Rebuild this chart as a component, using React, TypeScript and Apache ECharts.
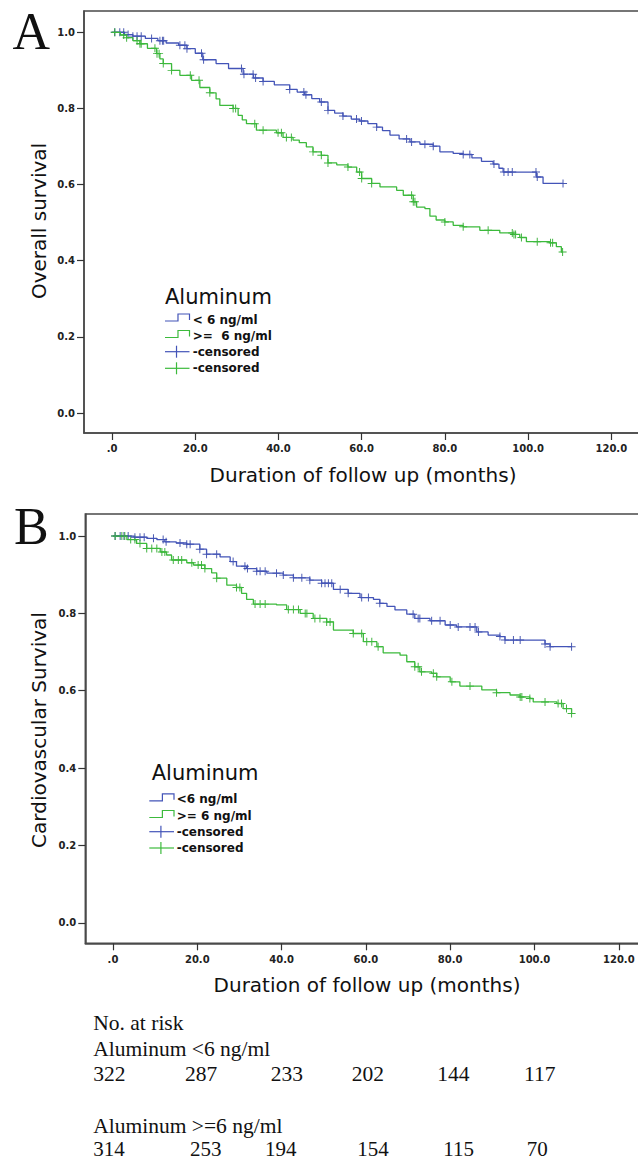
import React, { useEffect, useRef } from "react";
import * as echarts from "echarts";

// ---------- data ----------
const xTicks = [0, 20, 40, 60, 80, 100, 120];
const yTicks = [0, 0.2, 0.4, 0.6, 0.8, 1.0];

const groupLabelsA = ["< 6 ng/ml", ">=  6 ng/ml", "-censored", "-censored"];
const groupLabelsB = ["<6 ng/ml", ">= 6 ng/ml", "-censored", "-censored"];
const legendTitle = "Aluminum";

// Panel A: overall survival, [month, survival after drop]
const osLowSteps: [number, number][] = [
  [0, 1.0], [3, 0.994], [5, 0.99], [8, 0.984], [11, 0.978], [13, 0.972], [16, 0.966], [18, 0.957],
  [20, 0.945], [21.8, 0.928], [25, 0.918], [28, 0.905], [31.5, 0.89], [34, 0.88], [36.3, 0.871],
  [39, 0.862], [42.7, 0.85], [44.5, 0.843], [46.3, 0.836], [48, 0.826], [49.9, 0.817], [51.9, 0.795],
  [53.5, 0.788], [55.5, 0.78], [57.5, 0.772], [59.5, 0.767], [61.5, 0.76], [63.6, 0.751], [65, 0.742],
  [66.8, 0.73], [69, 0.72], [71.6, 0.712], [74, 0.706], [77.2, 0.701], [78.8, 0.686], [82, 0.682],
  [84.4, 0.679], [86.5, 0.67], [88.8, 0.661], [91.6, 0.654], [93, 0.643], [94, 0.633], [102, 0.62],
  [103.6, 0.603], [108.4, 0.603],
];
const osLowCensored = [
  0.65, 1.85, 2.8, 3.85, 5, 6, 7, 9.5, 11.5, 12.1, 12.4, 16.3, 17.5, 18, 21.5, 22, 31.1, 31.7, 33.9,
  34.5, 36.3, 42.7, 46.1, 46.6, 50.3, 51.9, 55.5, 58.75, 59.95, 63.6, 70.8, 72, 75.2, 77.2, 84.4, 86,
  91.8, 94.2, 95.2, 96.2, 101.9, 102.2, 108.4,
];
const osHighSteps: [number, number][] = [
  [0, 1.0], [2, 0.993], [3.5, 0.986], [5, 0.978], [6.7, 0.97], [8.5, 0.958], [10.7, 0.944], [11.5, 0.93],
  [12.3, 0.918], [14.3, 0.9], [16.3, 0.887], [19.1, 0.874], [21.1, 0.855], [23.5, 0.841], [25, 0.825],
  [25.9, 0.808], [29.1, 0.8], [30.3, 0.782], [31.3, 0.77], [32.3, 0.76], [34.7, 0.743], [39.5, 0.736],
  [41.1, 0.724], [43.5, 0.717], [45, 0.71], [46.7, 0.699], [48.3, 0.686], [50.3, 0.677], [51.9, 0.657],
  [54, 0.652], [56.7, 0.646], [58.8, 0.633], [60, 0.616], [62.4, 0.603], [64.4, 0.594], [68.4, 0.585],
  [70, 0.572], [72.4, 0.555], [73.2, 0.541], [75.2, 0.537], [76.4, 0.517], [77.9, 0.507], [80, 0.502],
  [82, 0.493], [84.4, 0.489], [88.4, 0.48], [93.2, 0.473], [96.4, 0.469], [98, 0.461], [99.6, 0.45],
  [105.2, 0.447], [106.8, 0.437], [108, 0.423], [108.3, 0.423],
];
const osHighCensored = [
  0.65, 2.8, 3.5, 6, 6.7, 7, 10.3, 10.8, 11.3, 12.3, 14.3, 18.8, 20.9, 23.5, 29.1, 29.7, 34.3, 36.3,
  39.9, 40.7, 41.9, 43.1, 48.3, 50.3, 51.9, 56.7, 59.5, 60, 62.4, 72, 72.4, 72.8, 80, 84.4, 90.4, 96.2,
  96.6, 97, 98.4, 102.2, 105.4, 105.9, 108.3,
];

// Panel B: cardiovascular survival
const cvLowSteps: [number, number][] = [
  [0, 1.0], [5, 0.997], [8, 0.994], [10.4, 0.991], [12.3, 0.985], [15, 0.982], [17.5, 0.979],
  [20.6, 0.966], [22.2, 0.953], [25.4, 0.946], [27.8, 0.934], [29.3, 0.922], [31.7, 0.916], [34.1, 0.909],
  [36.5, 0.904], [40.4, 0.899], [42.8, 0.892], [46.7, 0.886], [49.5, 0.878], [52.3, 0.862], [55.8, 0.852],
  [58.6, 0.841], [61.8, 0.836], [63.3, 0.826], [65, 0.818], [66.9, 0.809], [69.7, 0.798], [71.6, 0.787],
  [75.2, 0.781], [78.8, 0.77], [81.5, 0.765], [86.3, 0.752], [89, 0.744], [91.8, 0.74], [93, 0.731],
  [102.5, 0.721], [103.7, 0.714], [108.8, 0.714],
];
const cvLowCensored = [
  0.5, 1.7, 2.6, 3.6, 5.2, 6.4, 7.4, 9.6, 11.9, 12.6, 15.9, 17.5, 18.3, 20.6, 22.2, 24.6, 28.5, 31.3,
  31.9, 34.1, 34.9, 36.1, 38.8, 40.4, 42.8, 44.8, 46.7, 49.5, 50.3, 51.1, 51.9, 53.9, 55.8, 59, 60.6,
  63.3, 71.2, 72.4, 72.8, 75.6, 77.6, 80, 81.9, 84.7, 85.9, 86.7, 91.8, 93, 95, 96.6, 102.5, 103.7, 108.8,
];
const cvHighSteps: [number, number][] = [
  [0, 1.0], [3.3, 0.991], [5.6, 0.981], [8, 0.968], [11.2, 0.959], [12.7, 0.951], [13.9, 0.938],
  [17.5, 0.931], [19.1, 0.925], [21.8, 0.916], [23.4, 0.905], [24.6, 0.891], [27, 0.873], [29.3, 0.867],
  [30.5, 0.852], [31.7, 0.836], [33.3, 0.824], [38.8, 0.822], [41.2, 0.81], [44.4, 0.8], [47.5, 0.787],
  [50.7, 0.778], [52.3, 0.757], [57, 0.748], [59.4, 0.727], [62.6, 0.714], [64.1, 0.698], [68.1, 0.692],
  [69.7, 0.675], [71.6, 0.662], [72.8, 0.649], [75.6, 0.645], [76.8, 0.636], [80, 0.623], [82.3, 0.612],
  [87.5, 0.602], [91, 0.595], [94.2, 0.589], [96.6, 0.584], [98.9, 0.58], [99.7, 0.571], [105.3, 0.567],
  [106.8, 0.554], [108.8, 0.541],
];
const cvHighCensored = [
  0.5, 2.1, 2.8, 4.2, 5.2, 6.4, 8, 9.2, 10.4, 11.6, 12.3, 14.3, 15.5, 16.3, 18.7, 20.2, 21, 21.8, 24.6,
  29.3, 30.1, 33.7, 34.9, 36.1, 41.6, 42.8, 44, 45.6, 46, 47.9, 49.1, 50.7, 51.5, 57, 59, 60.2, 61.4,
  62.9, 71.6, 72.4, 73.2, 76, 76.8, 80.4, 84.7, 91, 96.6, 97, 98.9, 102.5, 105.6, 106.4, 107.6, 108.8,
];

// Numbers at risk
const riskTitle = "No. at risk";
const riskLowLabel = "Aluminum <6 ng/ml";
const riskHighLabel = "Aluminum >=6 ng/ml";
const riskLow = [322, 287, 233, 202, 144, 117];
const riskHigh = [314, 253, 194, 154, 115, 70];

// ---------- helpers ----------
const BLUE = "#4354b8";
const BLUE_MARK = "#3142a6";
const GREEN = "#3cba3c";
const GREEN_MARK = "#27a827";
const FRAME = "#4a4a4a";

const PLUS = "path://M4.4,0H5.6V4.4H10V5.6H5.6V10H4.4V5.6H0V4.4H4.4Z";

function stepValue(steps: [number, number][], t: number): number {
  let v = steps[0][1];
  for (const [x, y] of steps) {
    if (x <= t + 1e-9) v = y;
    else break;
  }
  return v;
}

function censorPoints(steps: [number, number][], times: number[]) {
  return times.map((t) => [t, stepValue(steps, t)]);
}

const fmtX = (v: number) => (Math.abs(v) < 1e-9 ? ".0" : v.toFixed(1));
const fmtY = (v: number) => v.toFixed(1);

function makeXAxis(gridIndex: number, min: number, max: number, margin: number) {
  return {
    type: "value",
    gridIndex,
    min,
    max,
    axisLine: { show: true, onZero: false, lineStyle: { color: FRAME, width: 1.5 } },
    axisTick: {
      show: true,
      customValues: xTicks,
      length: 7,
      inside: false,
      lineStyle: { color: "#333", width: 1.2 },
    },
    axisLabel: {
      show: true,
      customValues: xTicks,
      formatter: fmtX,
      margin,
      fontFamily: "DejaVu Sans",
      fontWeight: "bold",
      fontSize: 10,
      color: "#222",
    },
    splitLine: { show: false },
  };
}

function makeYAxis(gridIndex: number, min: number, max: number) {
  return {
    type: "value",
    gridIndex,
    min,
    max,
    axisLine: { show: true, onZero: false, lineStyle: { color: FRAME, width: 1.5 } },
    axisTick: {
      show: true,
      customValues: yTicks,
      length: 7,
      inside: false,
      lineStyle: { color: "#333", width: 1.2 },
    },
    axisLabel: {
      show: true,
      customValues: yTicks,
      formatter: fmtY,
      margin: 9,
      fontFamily: "DejaVu Sans",
      fontWeight: "bold",
      fontSize: 10,
      color: "#222",
    },
    splitLine: { show: false },
  };
}

function stepSeries(idx: number, data: [number, number][], color: string) {
  return {
    type: "line",
    xAxisIndex: idx,
    yAxisIndex: idx,
    step: "end",
    data,
    showSymbol: false,
    symbol: "none",
    lineStyle: { color, width: 1.3 },
    silent: true,
  };
}

function censorSeries(idx: number, data: number[][], color: string) {
  return {
    type: "scatter",
    xAxisIndex: idx,
    yAxisIndex: idx,
    data,
    symbol: PLUS,
    symbolSize: 8,
    itemStyle: { color, opacity: 0.9 },
    silent: true,
  };
}

function text(x: number, y: number, str: string, font: string, extra: any = {}) {
  return {
    type: "text",
    x,
    y,
    silent: true,
    rotation: extra.rotation || 0,
    style: {
      text: str,
      font,
      fill: extra.fill || "#111",
      textAlign: extra.align || "left",
      textVerticalAlign: "middle",
    },
  };
}

function legend(titleX: number, titleMid: number, rows: number[], x0: number, x1: number, tx: number, labels: string[]) {
  const els: any[] = [];
  els.push(text(titleX, titleMid, legendTitle, '21px "DejaVu Sans"'));
  const colors = [BLUE, GREEN, BLUE, GREEN];
  rows.forEach((y, i) => {
    const c = colors[i];
    if (i < 2) {
      const xm = x0 + (x1 - x0) * 0.53;
      els.push({
        type: "polyline",
        silent: true,
        shape: {
          points: [
            [x0, y + 1.5],
            [xm, y + 1.5],
            [xm, y - 5.5],
            [x1, y - 5.5],
            [x1, y + 0.5],
          ],
        },
        style: { stroke: c, lineWidth: 1.2, fill: "none" },
      });
    } else {
      const xm = x0 + (x1 - x0) * 0.47;
      els.push({
        type: "line",
        silent: true,
        shape: { x1: x0, y1: y, x2: x1, y2: y },
        style: { stroke: c, lineWidth: 1.2 },
      });
      els.push({
        type: "line",
        silent: true,
        shape: { x1: xm, y1: y - 6, x2: xm, y2: y + 6 },
        style: { stroke: c, lineWidth: 1.2 },
      });
    }
    els.push(text(tx, y, labels[i], 'bold 12px "DejaVu Sans"'));
  });
  return els;
}

export default function App() {
  const ref = useRef<HTMLDivElement>(null);

  useEffect(() => {
    if (!ref.current) return;
    const chart = echarts.init(ref.current, undefined, { renderer: "svg" });

    const serif = '"Liberation Serif", "Times New Roman", serif';
    const tableFont = `21.5px ${serif}`;
    const lastRowFont = `21px ${serif}`;
    const colsLow = [93.3, 185, 270.7, 351.7, 437.3, 524];
    const colsHigh = [93.3, 190, 265, 357.3, 443.3, 526.7];

    const graphics: any[] = [
      text(12.5, 31, "A", `52px ${serif}`),
      text(14, 526.5, "B", `52px ${serif}`),
      text(363, 475, "Duration of follow up (months)", '20px "DejaVu Sans"', { align: "center" }),
      text(367, 985, "Duration of follow up (months)", '20px "DejaVu Sans"', { align: "center" }),
      text(39, 221, "Overall survival", '20px "DejaVu Sans"', { align: "center", rotation: Math.PI / 2 }),
      text(39, 730, "Cardiovascular Survival", '20px "DejaVu Sans"', { align: "center", rotation: Math.PI / 2 }),
      ...legend(165, 296.5, [319.5, 336, 351.7, 368.3], 165, 189.5, 192.7, groupLabelsA),
      ...legend(151.7, 772.9, [799.3, 816, 831.7, 848], 149.3, 174, 176.7, groupLabelsB),
      text(93.3, 1022.5, riskTitle, tableFont),
      text(93.3, 1049.3, riskLowLabel, tableFont),
      text(93.3, 1126, riskHighLabel, tableFont),
      ...riskLow.map((n, i) => text(colsLow[i], 1074.2, String(n), tableFont)),
      ...riskHigh.map((n, i) => text(colsHigh[i], 1148.5, String(n), lastRowFont)),
    ];

    chart.setOption({
      animation: false,
      backgroundColor: "#ffffff",
      grid: [
        { left: 84, top: 11, width: 620, height: 422, show: true, borderColor: FRAME, borderWidth: 1.5, backgroundColor: "transparent", outerBoundsMode: "none", containLabel: false },
        { left: 85.3, top: 514, width: 620, height: 429.3, show: true, borderColor: FRAME, borderWidth: 1.5, backgroundColor: "transparent", outerBoundsMode: "none", containLabel: false },
      ],
      xAxis: [makeXAxis(0, -6.75, -6.75 + 620 / 4.16, 10), makeXAxis(1, -6.57, -6.57 + 620 / 4.215, 11)],
      yAxis: [makeYAxis(0, -0.0525, 1.056), makeYAxis(1, -0.053, 1.057)],
      series: [
        stepSeries(0, osLowSteps, BLUE),
        stepSeries(0, osHighSteps, GREEN),
        censorSeries(0, censorPoints(osLowSteps, osLowCensored), BLUE_MARK),
        censorSeries(0, censorPoints(osHighSteps, osHighCensored), GREEN_MARK),
        stepSeries(1, cvLowSteps, BLUE),
        stepSeries(1, cvHighSteps, GREEN),
        censorSeries(1, censorPoints(cvLowSteps, cvLowCensored), BLUE_MARK),
        censorSeries(1, censorPoints(cvHighSteps, cvHighCensored), GREEN_MARK),
      ],
      graphic: graphics,
    });

    return () => chart.dispose();
  }, []);

  return (
    <div
      ref={ref}
      style={{ position: "absolute", left: 0, top: 0, width: 638, height: 1160, background: "#fff" }}
    />
  );
}
